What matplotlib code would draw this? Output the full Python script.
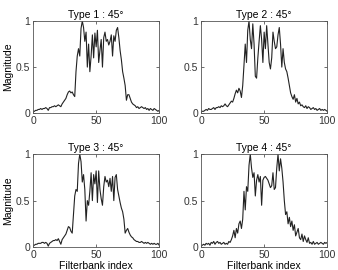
import matplotlib
matplotlib.use("Agg")
import matplotlib.pyplot as plt
import numpy as np

plt.rcParams['font.family'] = ['Liberation Sans', 'DejaVu Sans']

idx = np.arange(1, 101)

type1 = [0.02,0.03,0.03,0.04,0.04,0.05,0.04,0.05,0.05,0.06,
         0.05,0.03,0.06,0.06,0.07,0.07,0.08,0.07,0.08,0.09,
         0.08,0.07,0.10,0.12,0.14,0.16,0.20,0.23,0.24,0.22,
         0.23,0.20,0.18,0.45,0.62,0.70,0.62,0.92,1.00,0.93,
         0.78,0.88,0.50,0.75,0.45,0.62,0.85,0.60,0.87,0.72,
         0.90,0.55,0.68,0.80,0.50,0.82,0.88,0.78,0.80,0.74,
         0.78,0.85,0.62,0.84,0.78,0.90,0.93,0.82,0.68,0.58,
         0.45,0.38,0.30,0.14,0.20,0.20,0.16,0.12,0.10,0.09,
         0.08,0.06,0.07,0.05,0.06,0.07,0.06,0.05,0.06,0.04,
         0.05,0.03,0.05,0.04,0.03,0.05,0.04,0.03,0.02,0.03]

type2 = [0.02,0.02,0.03,0.04,0.03,0.05,0.04,0.04,0.05,0.06,
         0.04,0.06,0.06,0.07,0.06,0.08,0.07,0.08,0.10,0.08,
         0.07,0.09,0.11,0.13,0.12,0.16,0.21,0.25,0.22,0.27,
         0.24,0.17,0.30,0.52,0.75,0.55,0.90,1.00,0.80,0.70,
         0.97,0.75,0.40,0.38,0.60,0.78,0.95,0.80,0.55,0.88,
         0.70,0.95,0.75,0.55,0.48,0.60,0.88,0.78,0.70,0.72,
         0.85,0.93,0.75,0.50,0.70,0.55,0.48,0.45,0.38,0.30,
         0.22,0.18,0.15,0.20,0.12,0.16,0.10,0.12,0.08,0.09,
         0.07,0.06,0.08,0.05,0.07,0.06,0.04,0.05,0.06,0.04,
         0.05,0.03,0.04,0.05,0.03,0.04,0.03,0.04,0.03,0.02]

type3 = [0.02,0.03,0.03,0.04,0.04,0.04,0.05,0.05,0.04,0.05,
         0.04,0.01,0.04,0.05,0.06,0.07,0.07,0.08,0.07,0.09,
         0.06,0.03,0.08,0.10,0.12,0.14,0.18,0.22,0.21,0.17,
         0.15,0.35,0.55,0.62,0.60,0.90,1.00,0.92,0.70,0.78,
         0.62,0.28,0.50,0.45,0.60,0.80,0.50,0.78,0.68,0.82,
         0.48,0.82,0.62,0.52,0.45,0.65,0.76,0.70,0.72,0.65,
         0.74,0.60,0.76,0.50,0.75,0.78,0.62,0.55,0.48,0.42,
         0.38,0.30,0.15,0.18,0.20,0.16,0.13,0.11,0.10,0.08,
         0.07,0.06,0.06,0.05,0.05,0.06,0.05,0.04,0.05,0.04,
         0.05,0.04,0.03,0.04,0.03,0.04,0.03,0.03,0.04,0.02]

type4 = [0.02,0.03,0.02,0.04,0.03,0.04,0.02,0.05,0.04,0.06,
         0.03,0.05,0.06,0.04,0.05,0.03,0.04,0.05,0.03,0.04,
         0.03,0.06,0.05,0.08,0.12,0.18,0.10,0.20,0.15,0.25,
         0.28,0.20,0.30,0.60,0.40,0.65,0.60,0.88,1.00,0.85,
         0.75,0.80,0.55,0.72,0.78,0.70,0.76,0.45,0.72,0.75,
         0.76,0.74,0.72,0.68,0.64,0.66,0.80,0.62,0.64,0.85,
         1.00,0.82,0.95,0.85,0.70,0.50,0.35,0.38,0.25,0.32,
         0.22,0.28,0.18,0.24,0.12,0.16,0.20,0.10,0.08,0.14,
         0.06,0.12,0.08,0.05,0.10,0.04,0.05,0.03,0.06,0.03,
         0.04,0.05,0.03,0.04,0.05,0.04,0.03,0.05,0.04,0.05]

titles = ['Type 1 : 45°', 'Type 2 : 45°', 'Type 3 : 45°', 'Type 4 : 45°']
series = [type1, type2, type3, type4]

fig = plt.figure(figsize=(3.38, 2.70), dpi=100)
boxes = [[0.098, 0.581, 0.373, 0.341],
         [0.595, 0.581, 0.373, 0.341],
         [0.098, 0.085, 0.373, 0.344],
         [0.595, 0.085, 0.373, 0.344]]

fs = 7.5
for i, (b, y, t) in enumerate(zip(boxes, series, titles)):
    ax = fig.add_axes(b)
    ax.plot(idx, y, color='#222222', lw=0.8)
    ax.set_xlim(0, 100)
    ax.set_ylim(0, 1)
    ax.set_xticks([0, 50, 100])
    ax.set_yticks([0, 0.5, 1])
    ax.set_yticklabels(['0', '0.5', '1'])
    ax.tick_params(direction='in', top=True, right=True, labelsize=fs,
                   length=2, width=0.5, pad=2, colors='#333333')
    for s in ax.spines.values():
        s.set_linewidth(0.6)
        s.set_color('#555555')
    ax.set_title(t, fontsize=fs, pad=2)
    if i % 2 == 0:
        ax.set_ylabel('Magnitude', fontsize=fs, labelpad=2)
    if i >= 2:
        ax.set_xlabel('Filterbank index', fontsize=fs, labelpad=1)

fig.savefig('out.png', dpi=100)
